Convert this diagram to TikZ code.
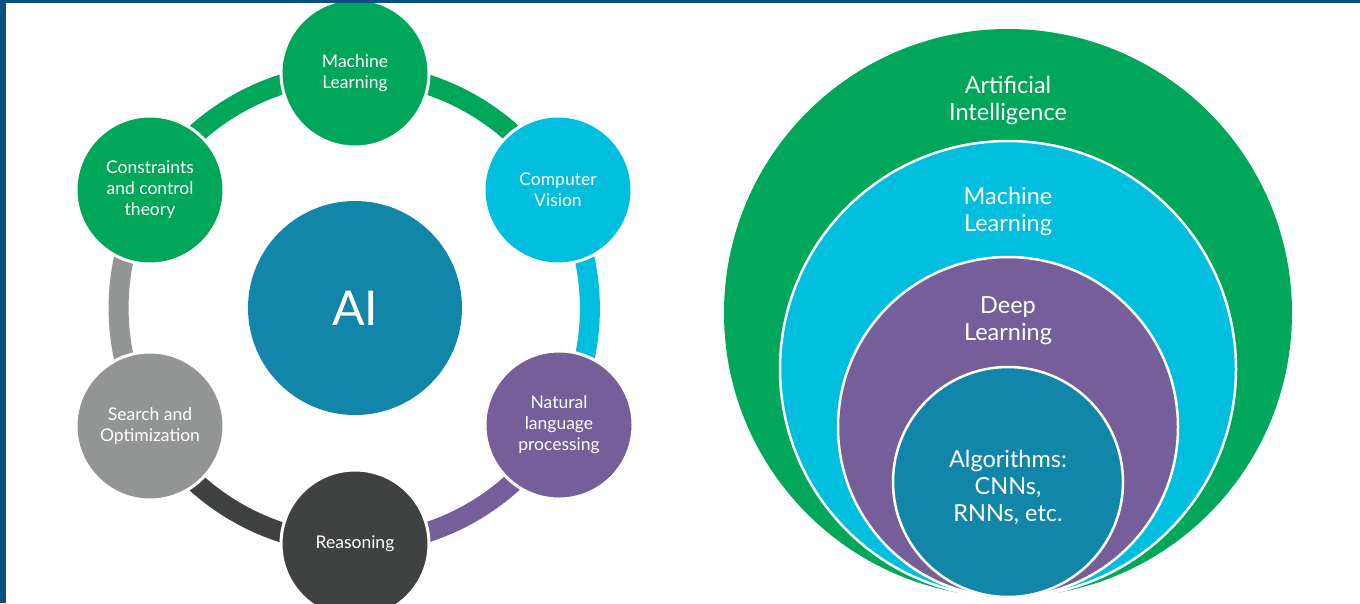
\documentclass[tikz,border=0pt]{standalone}
\usepackage{fontspec}
\setmainfont{Lato}
\usetikzlibrary{backgrounds}

\definecolor{aigreen}{RGB}{0,166,90}
\definecolor{aicyan}{RGB}{0,190,221}
\definecolor{aipurple}{RGB}{117,94,154}
\definecolor{aidark}{RGB}{64,65,65}
\definecolor{aigray}{RGB}{147,149,149}
\definecolor{aiteal}{RGB}{17,134,168}
\definecolor{frameblue}{RGB}{10,80,125}

\tikzset{
  hub/.style={circle, minimum size=148pt, inner sep=0pt, draw=white,
    line width=3pt, text=white, align=center,
    font=\fontsize{17.5}{21}\selectfont},
  ring/.style={line width=20pt, bend left=30, looseness=0.91},
  disc/.style={circle, inner sep=0pt, draw=white, line width=2.5pt},
  tag/.style={text=white, align=center, font=\fontsize{23.5}{27}\selectfont},
}

\begin{document}
\begin{tikzpicture}[x=1pt,y=-1pt]
  % page
  \begin{scope}[on background layer]
    \fill[white] (0,0) rectangle (1360,603);
  \end{scope}
  \path[use as bounding box] (0,0) rectangle (1360,603);

  % ---- left: AI and its fields ----
  \node[circle, minimum size=214pt, inner sep=0pt, fill=aiteal, text=white,
        font=\fontsize{48}{50}\selectfont] (ai) at (355,308) {AI};

  \node[hub, fill=aigreen]  (ml) at (355,73)  {Machine\\Learning};
  \node[hub, fill=aicyan]   (cv) at (558,190) {Computer\\Vision};
  \node[hub, fill=aipurple] (nlp) at (559,425) {Natural\\language\\processing};
  \node[hub, fill=aidark]   (rs) at (355,544) {Reasoning};
  \node[hub, fill=aigray]   (so) at (150,426) {Search and\\Optimization};
  \node[hub, fill=aigreen]  (ct) at (150,190) {Constraints\\and control\\theory};

  \begin{scope}[on background layer]
    \draw[ring, aigreen]  (ml.center)  to (cv.center);
    \draw[ring, aicyan]   (cv.center)  to (nlp.center);
    \draw[ring, aipurple] (nlp.center) to (rs.center);
    \draw[ring, aidark]   (rs.center)  to (so.center);
    \draw[ring, aigray]   (so.center)  to (ct.center);
    \draw[ring, aigreen]  (ct.center)  to (ml.center);
  \end{scope}

  % ---- right: nested sets ----
  \node[disc, minimum size=568pt, fill=aigreen, draw=none] (setai) at (1008,313) {};
  \node[disc, minimum size=456pt, fill=aicyan]   (setml) at (1008,369) {};
  \node[disc, minimum size=340pt, fill=aipurple] (setdl) at (1008,427) {};
  \node[disc, minimum size=230pt, fill=aiteal]   (setalg) at (1008,482) {};

  \node[tag] (tai)  at (1008,100) {Artificial\\Intelligence};
  \node[tag] (tml)  at (1008,211) {Machine\\Learning};
  \node[tag] (tdl)  at (1008,321) {Deep\\Learning};
  \node[tag] (talg) at (1008,487) {Algorithms:\\CNNs,\\RNNs, etc.};

  % frame
  \fill[frameblue] (0,0) rectangle (6,603);
  \fill[frameblue] (0,0) rectangle (1360,2.5);
\end{tikzpicture}
\end{document}
